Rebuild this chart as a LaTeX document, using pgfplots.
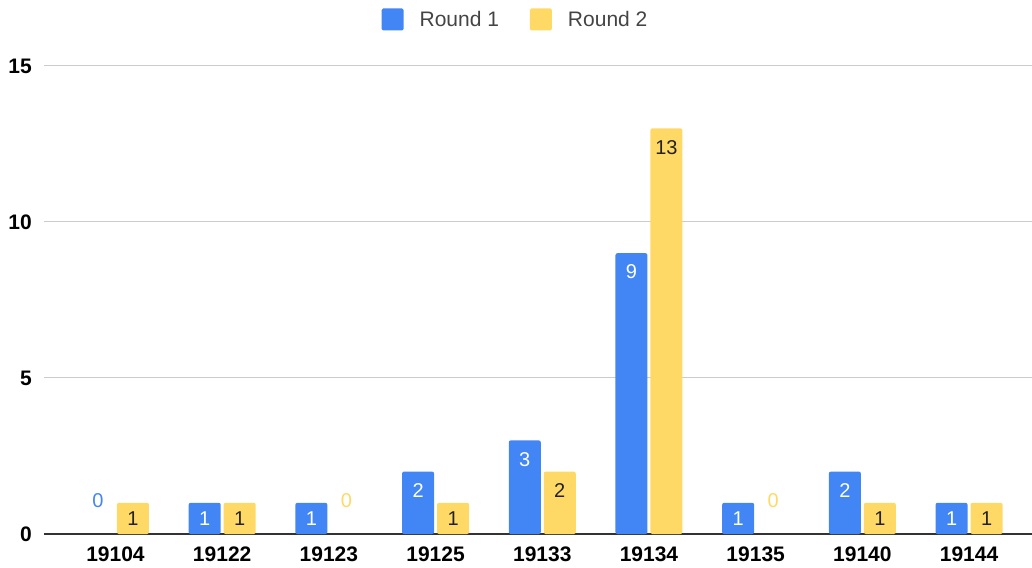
\documentclass[border=0pt]{standalone}
\usepackage{fontspec}
\setmainfont{Liberation Sans}
\usepackage{pgfplots}
\pgfplotsset{compat=1.18}
\definecolor{gblue}{HTML}{4285F4}
\definecolor{gyellow}{HTML}{FFD966}
\definecolor{gridgray}{HTML}{CCCCCC}
\definecolor{basegray}{HTML}{333333}
\definecolor{legtext}{HTML}{444444}
\definecolor{labdark}{HTML}{222222}
\newcommand{\lblfont}{\fontsize{20}{24}\selectfont}
\newcommand{\tickfont}{\fontsize{21}{25}\selectfont\bfseries}
\begin{document}
\begin{tikzpicture}
\path[use as bounding box] (-44pt,-33pt) rectangle (988pt,534pt);
\begin{axis}[
  scale only axis, width=988pt, height=468pt,
  xmin=-0.67, xmax=8.59, ymin=0, ymax=15,
  axis line style={draw=none},
  major tick length=0pt,
  xtick={0,1,2,3,4,5,6,7,8},
  xticklabels={19104,19122,19123,19125,19133,19134,19135,19140,19144},
  xticklabel style={font=\tickfont, text=black, inner sep=0pt, anchor=north, yshift=-13pt},
  ytick={5,10,15},
  extra y ticks={0},
  extra y tick style={ymajorgrids=true, grid style={basegray, line width=1.3pt}},
  ymajorgrids, grid style={gridgray, line width=1pt},
  yticklabel style={font=\tickfont, text=black, inner sep=0pt, anchor=east, xshift=-12pt},
  /pgf/number format/assume math mode=true,
  legend columns=2,
  legend style={at={(0.4762,1)}, anchor=center, yshift=46.5pt, draw=none, fill=none,
    inner sep=0pt, outer sep=0pt,
    nodes={inner sep=0pt, text=legtext, font=\fontsize{21}{25}\selectfont},
    /tikz/every odd column/.append style={column sep=16pt},
    /tikz/every even column/.append style={column sep=31pt}},
  legend image code/.code={\fill[#1, rounded corners=1.5pt] (0pt,-11pt) rectangle (22pt,11pt);},
]
% Round 1 (blue), values >= 2; x = category index - 0.164
\addplot[ybar, fill=gblue, draw=none, rounded corners=2pt, bar width=0.3, bar shift=0,
  nodes near coords, nodes near coords style={anchor=north, inner sep=0pt, yshift=-11.5pt, text=white, font=\lblfont}]
  coordinates {(2.836,2) (3.836,3) (4.836,9) (6.836,2)};
\addlegendentry{Round 1}
% Round 2 (yellow), values >= 2; x = category index + 0.164
\addplot[ybar, fill=gyellow, draw=none, rounded corners=2pt, bar width=0.3, bar shift=0,
  nodes near coords, nodes near coords style={anchor=north, inner sep=0pt, yshift=-11.5pt, text=labdark, font=\lblfont}]
  coordinates {(4.164,2) (5.164,13)};
\addlegendentry{Round 2}
% Round 1, value 1
\addplot[ybar, fill=gblue, draw=none, rounded corners=2pt, bar width=0.3, bar shift=0,
  nodes near coords, nodes near coords style={anchor=center, inner sep=0pt, yshift=-15.6pt, text=white, font=\lblfont},
  forget plot]
  coordinates {(0.836,1) (1.836,1) (5.836,1) (7.836,1)};
% Round 2, value 1
\addplot[ybar, fill=gyellow, draw=none, rounded corners=2pt, bar width=0.3, bar shift=0,
  nodes near coords, nodes near coords style={anchor=center, inner sep=0pt, yshift=-15.6pt, text=labdark, font=\lblfont},
  forget plot]
  coordinates {(0.164,1) (1.164,1) (3.164,1) (7.164,1) (8.164,1)};
% zero values
\addplot[ybar, draw=none, fill=none, bar width=0.3, bar shift=0,
  nodes near coords, nodes near coords style={anchor=south, inner sep=0pt, yshift=26pt, text=gblue, font=\lblfont},
  forget plot]
  coordinates {(-0.164,0)};
\addplot[ybar, draw=none, fill=none, bar width=0.3, bar shift=0,
  nodes near coords, nodes near coords style={anchor=south, inner sep=0pt, yshift=26pt, text=gyellow, font=\lblfont},
  forget plot]
  coordinates {(2.164,0) (6.164,0)};
\end{axis}
\end{tikzpicture}
\end{document}
